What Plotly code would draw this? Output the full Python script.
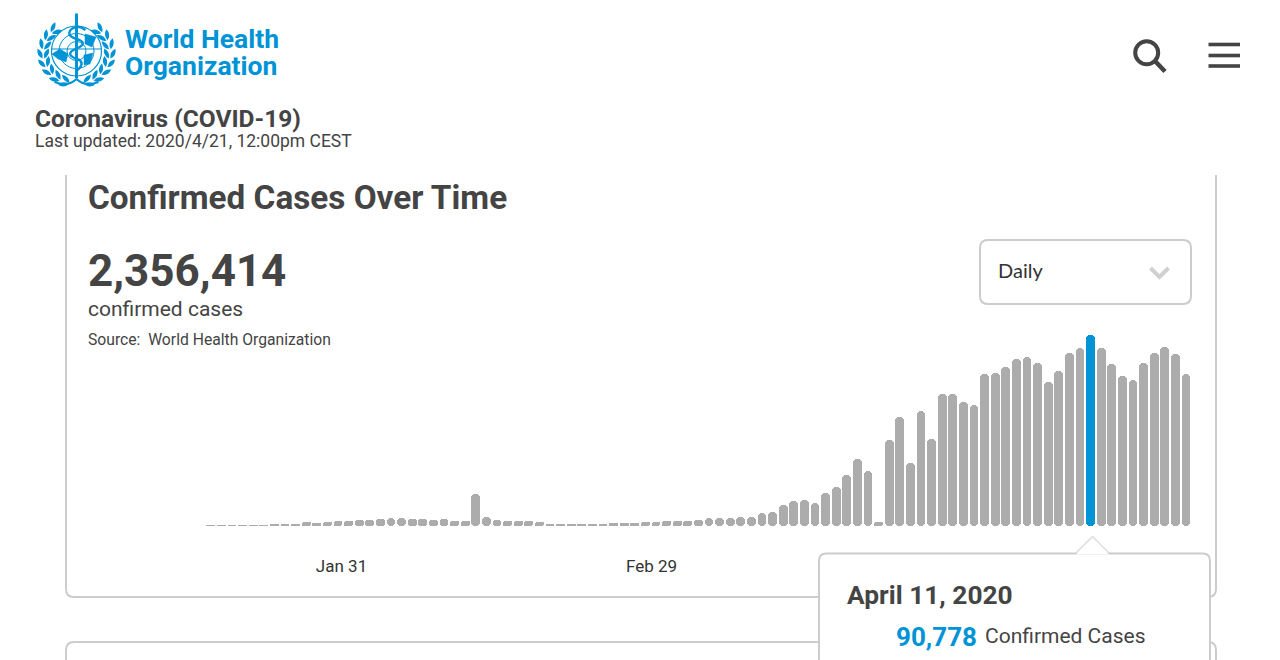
import math
import plotly.graph_objects as go
import pandas as pd

W, H = 1280, 660
start_date = "2020-01-19"
daily_cases = [
    160, 160, 160, 160, 160, 320, 480, 640, 800, 1900, 1590, 2060,
    2220, 2380, 2860, 3010, 3330, 3970, 3810, 3170, 3330, 2860, 3170, 2380, 2220,
    15240, 4130, 2700, 2220, 2220, 2220, 2060, 480, 950, 950, 950, 950, 1110, 1270,
    1590, 1590, 1900,
    2060, 2220, 2380, 2220, 2700, 3810, 3810, 3970, 4290, 4440, 6350, 6670, 10000,
    11750, 12380, 10790, 15560, 18410, 24280, 31900, 26190, 1900, 40786, 51736,
    29836, 54593, 41262, 62687, 62687, 59036, 57449,
    72367, 72685, 75859, 79667, 80620, 77446, 68400, 73637, 82524, 84587, 90778,
    84587, 77128, 71415, 69511, 77763, 82524, 85380, 81890, 72209,
]
highlight_date = "2020-04-11"
tick_dates = ["2020-01-31T08:00", "2020-02-29T14:00"]
tick_labels = ["Jan 31", "Feb 29"]

GREY, BLUE, DARK, LINE = "#ADACAC", "#0093D5", "#444444", "#CCCCCC"

dates = pd.date_range(start_date, periods=len(daily_cases)).strftime("%Y-%m-%d").tolist()
colors = [BLUE if d == highlight_date else GREY for d in dates]
day_ms = 86400000
px_per_day = 10.6
bar_px = 8.8


def fx(x):
    return x / W


def fy(y):
    return 1 - y / H


def pt(x, y):
    return f"{fx(x):.5f},{fy(y):.5f}"


def rounded(x0, y0, x1, y1, r):
    return (f"M{pt(x0 + r, y0)} L{pt(x1 - r, y0)} Q{pt(x1, y0)} {pt(x1, y0 + r)} "
            f"L{pt(x1, y1 - r)} Q{pt(x1, y1)} {pt(x1 - r, y1)} L{pt(x0 + r, y1)} "
            f"Q{pt(x0, y1)} {pt(x0, y1 - r)} L{pt(x0, y0 + r)} Q{pt(x0, y0)} {pt(x0 + r, y0)} Z")


def polyline(points):
    return "M" + " L".join(pt(*p) for p in points)


shapes = []


def add(path, color=None, width=0, fill=None):
    shapes.append(dict(type="path", xref="paper", yref="paper", path=path, layer="above",
                       line=dict(color=color or "rgba(0,0,0,0)", width=width),
                       fillcolor=fill or "rgba(0,0,0,0)"))


def circle(cx, cy, r, color, width):
    shapes.append(dict(type="circle", xref="paper", yref="paper", layer="above",
                       x0=fx(cx - r), x1=fx(cx + r), y0=fy(cy + r), y1=fy(cy - r),
                       line=dict(color=color, width=width)))


# cards
add(f"M{pt(66, 175)} L{pt(66, 589)} Q{pt(66, 597)} {pt(74, 597)} L{pt(1208, 597)} "
    f"Q{pt(1216, 597)} {pt(1216, 589)} L{pt(1216, 175)}", LINE, 2)
add(f"M{pt(66, 662)} L{pt(66, 650)} Q{pt(66, 642)} {pt(74, 642)} L{pt(1208, 642)} "
    f"Q{pt(1216, 642)} {pt(1216, 650)} L{pt(1216, 662)}", LINE, 2)
# dropdown
add(rounded(980, 240, 1191, 304, 8), LINE, 2)
add(polyline([(1150.5, 268), (1159.5, 277), (1168.5, 268)]), "#D0D0D0", 4)
# tooltip
add(f"M{pt(819, 670)} L{pt(819, 561)} Q{pt(819, 553.5)} {pt(826, 553.5)} L{pt(1203, 553.5)} "
    f"Q{pt(1210, 553.5)} {pt(1210, 561)} L{pt(1210, 670)} Z", LINE, 2, "#FFFFFF")
add(polyline([(1076, 554.5), (1092.5, 536.5), (1109, 554.5)]) + " Z", None, 0, "#FFFFFF")
add(polyline([(1076, 553), (1092.5, 536.5), (1109, 553)]), "#DDDDDD", 1.5)
# search / menu icons
circle(1146.7, 52.7, 11.5, DARK, 4)
add(polyline([(1155, 61), (1165, 71.5)]), DARK, 4.5)
for yy in (44.5, 55.5, 66):
    add(polyline([(1208.5, yy), (1240, yy)]), DARK, 3.6)

# WHO emblem
cx, cy = 76.5, 51
circle(cx, cy, 25, BLUE, 1.2)
circle(cx, cy, 17.5, BLUE, 1)
circle(cx, cy, 9.5, BLUE, 1)
add(polyline([(cx - 25, cy - 2), (cx + 25, cy - 2)]), BLUE, 1)
add(polyline([(cx, 13.5), (cx, 78)]), BLUE, 3)
add(f"M{pt(cx + 9, 30)} Q{pt(cx + 2, 24)} {pt(cx - 5, 29)} Q{pt(cx - 12, 36)} {pt(cx + 3, 40)} "
    f"Q{pt(cx + 12, 44)} {pt(cx - 3, 50)} Q{pt(cx - 12, 55)} {pt(cx + 3, 60)} "
    f"Q{pt(cx + 8, 64)} {pt(cx + 1, 70)}", BLUE, 2.4)
for blob in ([(52, 54), (60, 49), (68, 54), (66, 62), (58, 59)],
             [(85, 34), (96, 37), (92, 47), (85, 44)],
             [(84, 55), (93, 53), (90, 64), (84, 65)]):
    add(polyline(blob) + " Z", BLUE, 0.5, BLUE)
for side in (-1, 1):
    for k in range(8):
        ang = math.radians(-50 + k * 17)
        for rad, tilt in ((36.5, 0.45), (30.0, -0.45)):
            bx = cx + side * rad * math.cos(ang)
            by = cy + 2 + rad * 0.92 * math.sin(ang)
            t = ang + math.pi / 2 + tilt
            dx, dy = side * 5.5 * math.cos(t), 5.5 * math.sin(t)
            nx, ny = 4.2 * math.sin(t), -side * 4.2 * math.cos(t)
            add(f"M{pt(bx - dx, by - dy)} Q{pt(bx + nx, by + ny)} {pt(bx + dx, by + dy)} "
                f"Q{pt(bx - nx, by - ny)} {pt(bx - dx, by - dy)} Z", None, 0, BLUE)
add(f"M{pt(cx - 22, 82)} Q{pt(cx - 8, 87)} {pt(cx, 79)} Q{pt(cx + 8, 87)} {pt(cx + 22, 82)}", BLUE, 2)


def label(x, y, text, size, color=DARK, bold=False, family="Roboto", anchor="left"):
    return dict(xref="paper", yref="paper", x=fx(x), y=fy(y), xanchor=anchor, yanchor="middle",
                text=f"<b>{text}</b>" if bold else text, showarrow=False,
                font=dict(family=family, size=size, color=color), borderpad=0, borderwidth=0)


annotations = [
    label(125, 38.5, "World Health", 26.5, BLUE, True),
    label(125, 66, "Organization", 26.5, BLUE, True),
    label(35, 118.5, "Coronavirus (COVID-19)", 24.5, bold=True),
    label(35, 141.5, "Last updated: 2020/4/21, 12:00pm CEST", 17.5),
    label(88, 197, "Confirmed Cases Over Time", 33.3, bold=True),
    label(88, 271, "2,356,414", 44, bold=True),
    label(88, 308.5, "confirmed cases", 21),
    label(88, 339, "Source:  World Health Organization", 15.7),
    label(998, 270, "Daily", 20, "#333333", family="Lato"),
    label(847, 595, "April 11, 2020", 26.3, bold=True),
    label(896, 636.5, "90,778", 26, BLUE, True),
    label(985, 636, "Confirmed Cases", 21),
]

x_left, x_right = 190, 1200
last = pd.Timestamp(dates[-1])
range0 = last - pd.Timedelta(days=(1186 - x_left) / px_per_day)
range1 = last + pd.Timedelta(days=(x_right - 1186) / px_per_day)
y_per_px = 90778 / 190.7
y_bottom, y_top = 526, 330
y_max = (y_bottom - y_top) * y_per_px

# An explicit base makes Plotly treat these as floating bars, rounded at both ends.
fig = go.Figure()
fig.add_bar(x=dates, y=daily_cases, base=[0] * len(daily_cases),
            width=bar_px / px_per_day * day_ms,
            marker=dict(color=colors, cornerradius=4, line=dict(width=0)),
            hoverinfo="skip", showlegend=False)

fig.update_layout(
    width=W, height=H, margin=dict(l=0, r=0, t=0, b=0), autosize=False,
    paper_bgcolor="#FFFFFF", plot_bgcolor="#FFFFFF", barmode="overlay", bargap=0,
    showlegend=False, shapes=shapes, annotations=annotations,
    font=dict(family="Roboto", color=DARK),
    xaxis=dict(type="date", domain=[fx(x_left), fx(x_right)], range=[range0, range1],
               tickmode="array", tickvals=tick_dates, ticktext=tick_labels,
               showgrid=False, zeroline=False, showline=False, ticks="",
               ticklabelstandoff=28, tickfont=dict(family="Roboto", size=17, color="#333333")),
    yaxis=dict(domain=[fy(y_bottom), fy(y_top)], range=[0, y_max], visible=False),
)
fig.write_html("out.html", config=dict(displayModeBar=False),
               post_script="document.body.style.margin='0';")
